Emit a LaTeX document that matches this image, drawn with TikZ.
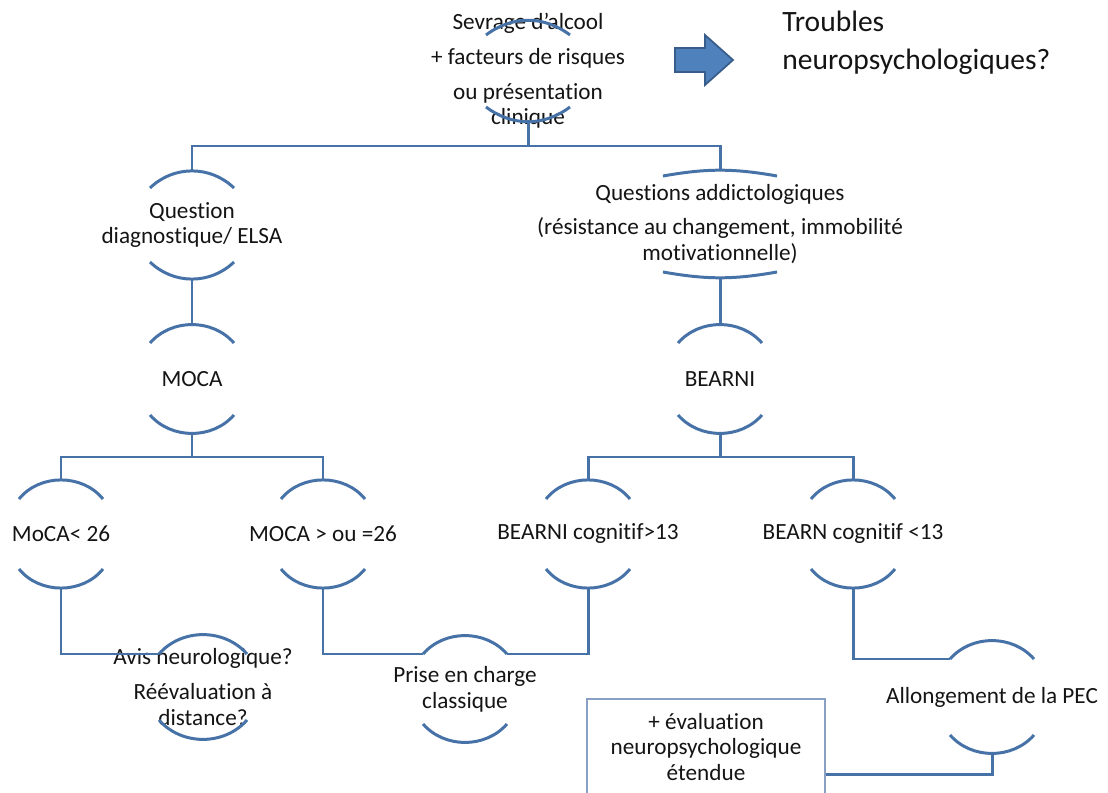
\documentclass[tikz,border=0pt]{standalone}
\usepackage{fontspec}
\setmainfont[Ligatures=NoCommon]{Carlito}
\usepackage{tikz}
\usetikzlibrary{calc}
\definecolor{LINEBLUE}{HTML}{4672A8}
\definecolor{ARROWBLUE}{HTML}{4F81BD}
\definecolor{ARROWEDGE}{HTML}{385D8A}
\definecolor{BOXEDGE}{HTML}{8A9FC4}
\definecolor{TEXTBLACK}{HTML}{141414}

% arcs above and below a node: name, half width, half height, drop
\newcommand{\caparcs}[4]{%
    \pgfmathsetmacro{\bendang}{2*atan(#4/#2)}
    \coordinate (#1 t) at ($(#1)+(0,#3)$);
    \coordinate (#1 b) at ($(#1)+(0,-#3)$);
    \coordinate (#1 tl) at ($(#1)+(-#2,#3-#4)$);
    \coordinate (#1 tr) at ($(#1)+(#2,#3-#4)$);
    \coordinate (#1 bl) at ($(#1)+(-#2,-#3+#4)$);
    \coordinate (#1 br) at ($(#1)+(#2,-#3+#4)$);
    \draw[capline] (#1 tl) to[bend left=\bendang] (#1 tr);
    \draw[capline] (#1 bl) to[bend right=\bendang] (#1 br);
}

\begin{document}
\begin{tikzpicture}[x=0.02cm, y=0.02cm,
    txt/.style={align=center, text=TEXTBLACK, inner sep=0pt,
        font=\fontsize{13.2}{14.7}\selectfont},
    capline/.style={LINEBLUE, line width=1.7pt},
    conn/.style={LINEBLUE, line width=1.7pt},
    evalbox/.style={draw=BOXEDGE, line width=0.8pt, minimum width=4.76cm, minimum height=3cm, inner sep=0pt}]
    \path[use as bounding box, clip] (0,0) rectangle (1108,792);
    %
    \node[txt] (src) at (528,721) {Sevrage d’alcool\\[5pt]+ facteurs de risques\\[5pt]ou présentation\\clinique};
    \node[TEXTBLACK, anchor=west, align=left, inner sep=0pt, font=\fontsize{16.8}{21.6}\selectfont] (trouble) at (782,749) {Troubles\\neuropsychologiques?};
    \draw[ARROWEDGE, fill=ARROWBLUE, line width=1pt] (675,744) -- (705,744) -- (705,757) -- (733,732) -- (705,707) -- (705,720) -- (675,720) -- cycle;
    %
    \node[txt] (qd) at (192,567) {Question\\diagnostique/ ELSA};
    \node[txt] (qa) at (720,568) {Questions addictologiques\\[5pt](résistance au changement, immobilité\\motivationnelle)};
    \node[txt] (moca) at (192,413) {MOCA};
    \node[txt] (bearni) at (720,413) {BEARNI};
    \node[txt] (mlow) at (61,258) {MoCA< 26};
    \node[txt] (mhigh) at (323,258) {MOCA > ou =26};
    \node[txt] (bhigh) at (588,258) {BEARNI cognitif>13};
    \node[txt] (blow) at (853,258) {BEARN cognitif <13};
    \node[txt] (avis) at (203,105) {Avis neurologique?\\[5pt]Réévaluation à\\distance?};
    \node[txt] (pec) at (465,103) {Prise en charge\\classique};
    \node[txt] (allong) at (992,95) {Allongement de la PEC};
    \node[evalbox] (eval) at (706,18) {};
    \node[txt] (evaltxt) at (706,45) {+ évaluation\\neuropsychologique\\étendue};
    %
    \caparcs{src}{42}{50}{14}
    \caparcs{qd}{42}{54}{17}
    \caparcs{qa}{57}{53}{5}
    \caparcs{moca}{42}{55}{19}
    \caparcs{bearni}{42}{55}{19}
    \caparcs{mlow}{42}{55}{20}
    \caparcs{mhigh}{42}{55}{20}
    \caparcs{bhigh}{42}{55}{20}
    \caparcs{blow}{42}{55}{20}
    \caparcs{avis}{44}{53}{20}
    \caparcs{pec}{42}{54}{19}
    \caparcs{allong}{42}{57}{19}
    %
    \draw[conn] (src b) -- ++(0,-25) coordinate (bus1);
    \draw[conn] (qd t) |- (bus1) -| (qa t);
    \draw[conn] (qd b) -- (moca t);
    \draw[conn] (qa b) -- (bearni t);
    \draw[conn] (moca b) -- ++(0,-23) coordinate (bus2);
    \draw[conn] (mlow t) |- (bus2) -| (mhigh t);
    \draw[conn] (bearni b) -- ++(0,-23) coordinate (bus3);
    \draw[conn] (bhigh t) |- (bus3) -| (blow t);
    %
    \draw[conn] (mlow b) |- (avis tl);
    \draw[conn] (mhigh b) |- (pec tl);
    \draw[conn] (bhigh b) |- (pec tr);
    \draw[conn] (blow b) |- (allong tl);
    \draw[conn] (allong b) |- (eval.east);
\end{tikzpicture}
\end{document}
